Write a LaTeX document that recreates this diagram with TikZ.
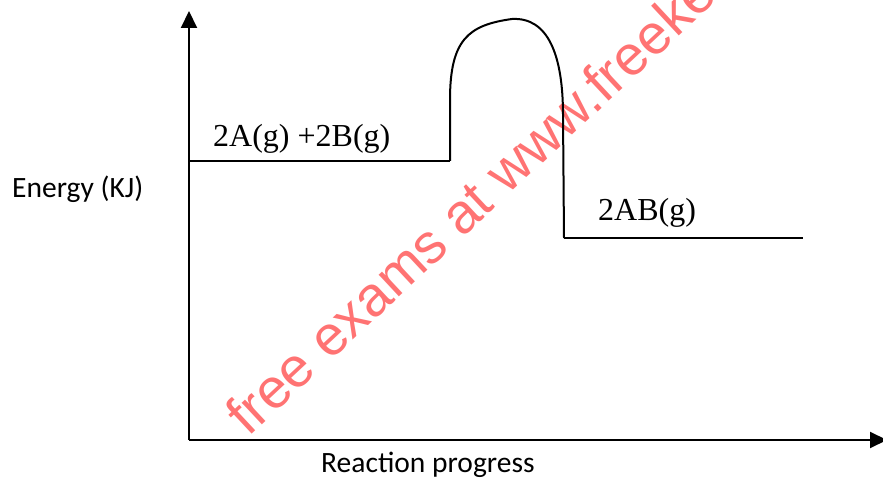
\documentclass[tikz,border=0pt]{standalone}
\usepackage{fontspec}
\usetikzlibrary{arrows.meta}
\newfontfamily\timesfont{Liberation Serif}
\newfontfamily\calfont{Carlito}
\newfontfamily\wmfont{Liberation Sans}
\definecolor{wmred}{RGB}{255,115,115}
\tikzset{
  axis/.style={line width=2pt,-{Triangle[length=17pt,width=16pt]}},
  level/.style={line width=1.6pt},
  barrier/.style={line width=2pt},
  chem/.style={inner sep=0pt,anchor=base west,font=\timesfont\fontsize{32}{38}\selectfont},
  axlabel/.style={inner sep=0pt,anchor=base west,font=\calfont\fontsize{29.5}{35}\selectfont},
  watermark/.style={inner sep=0pt,anchor=base west,text=wmred,rotate=43,font=\wmfont\fontsize{56}{66}\selectfont}
}
\begin{document}
\begin{tikzpicture}[x=1pt,y=-1pt]
\useasboundingbox (0,0) rectangle (883,478);
\coordinate (O) at (189,440);
\coordinate (ytip) at (189,11);
\coordinate (xtip) at (887,440);
\coordinate (r0) at (189,161);
\coordinate (r1) at (450,161);
\coordinate (p0) at (564,238);
\coordinate (p1) at (803,238);
% watermark
\node[watermark] (wm) at (248,438) {free exams at www.freeke};
% axes
\draw[axis] (O) -- (ytip);
\draw[axis] (O) -- (xtip);
% levels and barrier
\draw[level] (r0) -- (r1);
\draw[barrier] (r1) -- (450,100) .. controls (450,40) and (468,25) .. (512,19)
  .. controls (548,17) and (563,55) .. (563,115) -- (p0);
\draw[level] (p0) -- (p1);
% labels
\node[chem] (react) at (213,147) {2A(g) +2B(g)};
\node[chem] (prod) at (598,221) {2AB(g)};
\node[axlabel] (ylab) at (12,198) {Energy (KJ)};
\node[axlabel] (xlab) at (321,472) {Reaction progress};
\end{tikzpicture}
\end{document}
